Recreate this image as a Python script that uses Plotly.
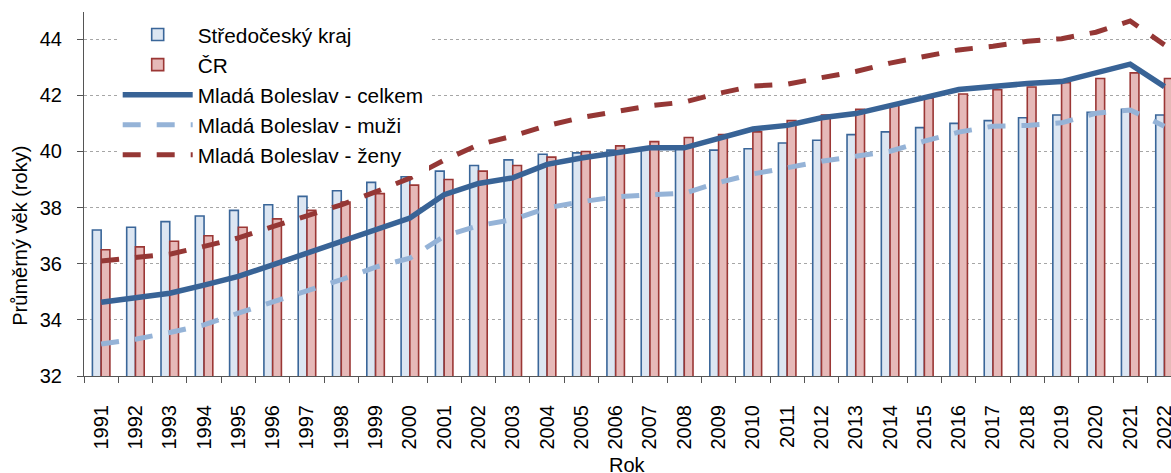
import plotly.graph_objects as go

years = [str(y) for y in range(1991, 2023)]

stredocesky = [37.2, 37.3, 37.5, 37.7, 37.9, 38.1, 38.4, 38.6, 38.9, 39.1,
               39.3, 39.5, 39.7, 39.9, 39.95, 40.05, 40.1, 40.1, 40.05, 40.1,
               40.3, 40.4, 40.6, 40.7, 40.85, 41.0, 41.1, 41.2, 41.3, 41.4,
               41.5, 41.3]
cr = [36.5, 36.6, 36.8, 37.0, 37.3, 37.6, 37.9, 38.2, 38.5, 38.8,
      39.0, 39.3, 39.5, 39.8, 40.0, 40.2, 40.35, 40.5, 40.6, 40.7,
      41.1, 41.3, 41.5, 41.7, 41.9, 42.05, 42.2, 42.3, 42.45, 42.6,
      42.8, 42.6]
mb_celkem = [34.63, 34.8, 34.95, 35.24, 35.55, 35.96, 36.38, 36.8, 37.21, 37.63,
             38.46, 38.86, 39.06, 39.54, 39.77, 39.93, 40.13, 40.13, 40.49, 40.8,
             40.93, 41.2, 41.35, 41.62, 41.92, 42.21, 42.33, 42.42, 42.49, 42.79,
             43.11, 42.31]
mb_muzi = [33.14, 33.31, 33.55, 33.82, 34.24, 34.64, 35.04, 35.43, 35.88, 36.2,
           36.98, 37.36, 37.57, 37.99, 38.21, 38.38, 38.46, 38.51, 38.89, 39.2,
           39.42, 39.65, 39.83, 40.01, 40.37, 40.69, 40.9, 40.93, 41.02, 41.36,
           41.48, 40.9]
mb_zeny = [36.1, 36.2, 36.34, 36.62, 36.92, 37.32, 37.7, 38.1, 38.56, 39.05,
           39.69, 40.24, 40.55, 40.92, 41.21, 41.43, 41.63, 41.76, 42.07, 42.33,
           42.4, 42.63, 42.85, 43.15, 43.37, 43.62, 43.75, 43.93, 44.02, 44.25,
           44.65, 43.8]

FONT = "Liberation Sans, Arial, sans-serif"

fig = go.Figure()
fig.add_trace(go.Bar(x=years, y=stredocesky, name="Středočeský kraj",
                     marker=dict(color="#DCE6F2", line=dict(color="#3A6699", width=1.6))))
fig.add_trace(go.Bar(x=years, y=cr, name="ČR",
                     marker=dict(color="#E6B9B8", line=dict(color="#9B3735", width=1.6))))
fig.add_trace(go.Scatter(x=years, y=mb_celkem, name="Mladá Boleslav - celkem", mode="lines",
                         line=dict(color="#386396", width=5.5)))
fig.add_trace(go.Scatter(x=years, y=mb_muzi, name="Mladá Boleslav - muži", mode="lines",
                         line=dict(color="#95B3D7", width=5, dash="18px,16px")))
fig.add_trace(go.Scatter(x=years, y=mb_zeny, name="Mladá Boleslav - ženy", mode="lines",
                         line=dict(color="#953735", width=5, dash="18px,16px")))

fig.update_layout(
    width=1171, height=473,
    margin=dict(l=84, r=0, t=12, b=97),
    paper_bgcolor="white", plot_bgcolor="white",
    font=dict(family=FONT, size=20, color="black"),
    barmode="group", bargap=0.49, bargroupgap=0,
    showlegend=True,
    legend=dict(x=0.031, y=0.993, xanchor="left", yanchor="top",
                bgcolor="white", font=dict(size=20.8, family=FONT),
                itemwidth=70, tracegroupgap=0),
    xaxis=dict(type="category", range=[-0.5, 31.19], tickson="boundaries",
               ticks="outside", ticklen=6, tickcolor="#555555",
               showline=True, linecolor="#555555", linewidth=1,
               tickangle=-90, showgrid=False, ticklabelstandoff=20,
               automargin=False),
    yaxis=dict(range=[32, 44.97], dtick=2, tick0=32,
               ticks="outside", ticklen=6, tickcolor="#555555",
               showline=True, linecolor="#555555", linewidth=1,
               showgrid=True, gridcolor="#A6A6A6", gridwidth=1, griddash="dot",
               zeroline=False, ticklabelstandoff=11, automargin=False),
    annotations=[
        dict(text="Průměrný věk (roky)", textangle=-90,
             xref="paper", yref="paper", x=-0.059, y=0.385,
             xanchor="center", yanchor="middle", showarrow=False,
             font=dict(size=20, family=FONT)),
        dict(text="Rok", xref="paper", yref="paper", x=0.5, y=-0.245,
             xanchor="center", yanchor="middle", showarrow=False,
             font=dict(size=20, family=FONT)),
    ],
)

fig.write_html("out.html", config={"displayModeBar": False},
               post_script="document.body.style.margin='0';document.body.style.overflow='hidden';")
